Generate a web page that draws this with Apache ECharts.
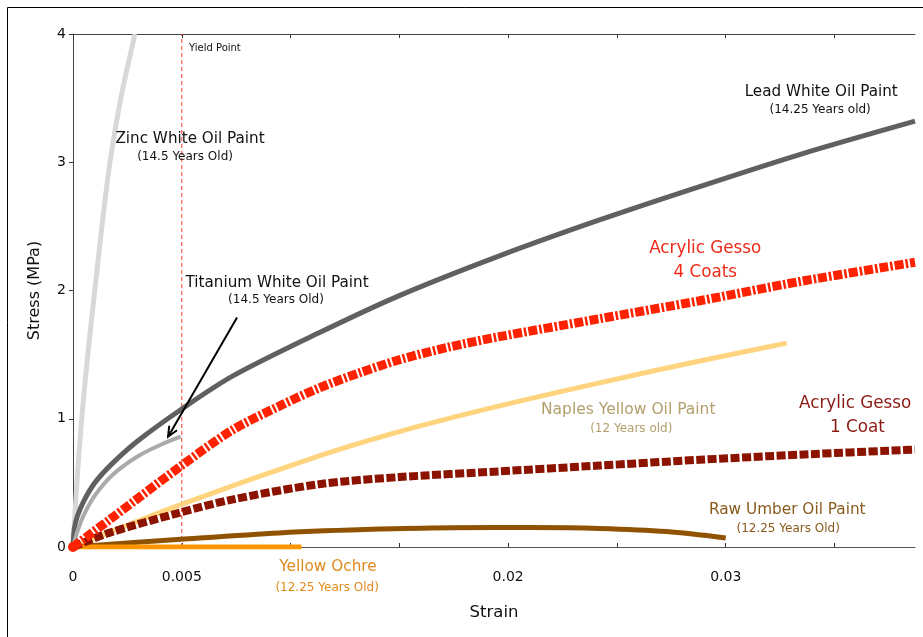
<!DOCTYPE html>
<html>
<head>
<meta charset="utf-8">
<title>Stress–Strain Curves of Aged Paint Films</title>
<script src="https://cdn.jsdelivr.net/npm/echarts@6/dist/echarts.min.js"></script>
<style>
  html, body { margin: 0; padding: 0; background: #fff; }
  #chart { width: 923px; height: 637px; }
</style>
</head>
<body>
<div id="chart"></div>
<script>
// ---- data: strain (mm/mm) vs stress (MPa) ----
const zincStrain      = [0, 0.00018, 0.0004, 0.00068, 0.001, 0.00133, 0.0017, 0.0022, 0.00285];
const zincStress      = [0, 0.5, 1.0, 1.5, 2.0, 2.5, 3.0, 3.5, 4.0];

const leadStrain      = [0, 0.00006, 0.0002, 0.0005, 0.001, 0.0018, 0.003, 0.00495, 0.00731, 0.01131, 0.015, 0.0196, 0.0242, 0.0288, 0.0334, 0.0387];
const leadStress      = [0, 0.14, 0.24, 0.36, 0.5, 0.65, 0.83, 1.07, 1.33, 1.67, 1.96, 2.27, 2.55, 2.81, 3.06, 3.32];

const titaniumStrain  = [0, 0.0002, 0.0005, 0.001, 0.0018, 0.003, 0.0042, 0.00495];
const titaniumStress  = [0, 0.12, 0.25, 0.4, 0.56, 0.71, 0.81, 0.86];

const gesso4Strain    = [0, 0.00166, 0.00495, 0.00731, 0.0095, 0.01131, 0.0132, 0.015, 0.0173, 0.0196, 0.0242, 0.0288, 0.0334, 0.0387];
const gesso4Stress    = [0, 0.21, 0.63, 0.91, 1.1, 1.24, 1.36, 1.46, 1.56, 1.64, 1.78, 1.92, 2.07, 2.22];

const naplesStrain    = [0, 0.00495, 0.01131, 0.015, 0.0196, 0.0242, 0.0288, 0.0328];
const naplesStress    = [0, 0.33, 0.71, 0.9, 1.1, 1.28, 1.45, 1.59];

const gesso1Strain    = [0, 0.00166, 0.00495, 0.00731, 0.01131, 0.015, 0.0196, 0.0242, 0.0288, 0.0334, 0.0387];
const gesso1Stress    = [0, 0.11, 0.27, 0.37, 0.49, 0.545, 0.59, 0.635, 0.68, 0.72, 0.76];

const umberStrain     = [0, 0.00495, 0.00947, 0.0141, 0.0175, 0.021, 0.0242, 0.0273, 0.03];
const umberStress     = [0, 0.06, 0.11, 0.14, 0.15, 0.152, 0.145, 0.12, 0.07];

const ochreStrain     = [0, 0.0105];
const ochreStress     = [0, 0];

const yieldStrain     = 0.005;
const yieldSpan       = [0, 4];

// axis ticks
const xTickValues     = [0, 0.005, 0.01, 0.015, 0.02, 0.025, 0.03, 0.035];
const xTickLabels     = [0, 0.005, 0.02, 0.03];
const yTickValues     = [0, 1, 2, 3, 4];

const pairs = (xs, ys) => xs.map((x, i) => [x, ys[i]]);

const FONT = '"DejaVu Sans", Verdana, sans-serif';

const chart = echarts.init(document.getElementById('chart'), null, { renderer: 'canvas' });

function lineSeries(name, xs, ys, color, width, type, z) {
  return {
    name: name,
    type: 'line',
    data: pairs(xs, ys),
    smooth: 0.3,
    showSymbol: false,
    symbol: 'none',
    silent: true,
    z: z,
    lineStyle: { color: color, width: width, type: type || 'solid', cap: 'butt' },
    clip: true
  };
}

const gesso4 = lineSeries('Acrylic Gesso 4 Coats', gesso4Strain, gesso4Stress, '#ff2200', 9, [9, 2, 2.5, 2], 6);
// round red blob at the origin
gesso4.data[0] = { value: gesso4.data[0], symbol: 'circle', symbolSize: 10, itemStyle: { color: '#ff2200' } };
gesso4.showSymbol = true;
gesso4.showAllSymbol = true;

// vertical dashed yield line
const yieldLine = {
  name: 'Yield Point',
  type: 'line',
  data: yieldSpan.map(s => [yieldStrain, s]),
  showSymbol: false,
  symbol: 'none',
  silent: true,
  z: 1,
  lineStyle: { color: '#ff3a2e', width: 1, type: [4, 3] }
};

const option = {
  animation: false,
  backgroundColor: '#ffffff',
  grid: { left: 73, right: 8, top: 34, bottom: 90, containLabel: false },
  xAxis: [
    {
      type: 'value',
      position: 'bottom',
      min: 0,
      max: 0.0387,
      name: 'Strain',
      nameLocation: 'middle',
      nameGap: 57,
      nameTextStyle: { fontFamily: FONT, fontSize: 16.5, color: '#111' },
      axisLine: { show: true, onZero: false, lineStyle: { color: '#555', width: 1.2 } },
      axisTick: { show: true, inside: true, length: 4, customValues: xTickValues, lineStyle: { color: '#333' } },
      axisLabel: {
        show: true,
        customValues: xTickLabels,
        margin: 23,
        fontFamily: FONT,
        fontSize: 14,
        color: '#111',
        formatter: v => String(v)
      },
      splitLine: { show: false }
    },
    {
      type: 'value',
      position: 'top',
      min: 0,
      max: 0.0387,
      axisLine: { show: true, onZero: false, lineStyle: { color: '#444', width: 1 } },
      axisTick: { show: true, inside: true, length: 4, customValues: xTickValues, lineStyle: { color: '#333' } },
      axisLabel: { show: false },
      splitLine: { show: false }
    }
  ],
  yAxis: {
    type: 'value',
    min: 0,
    max: 4,
    interval: 1,
    name: 'Stress (MPa)',
    nameLocation: 'middle',
    nameGap: 30,
    nameRotate: 90,
    nameTextStyle: { fontFamily: FONT, fontSize: 16, color: '#111' },
    axisLine: { show: true, onZero: false, lineStyle: { color: '#444', width: 1 } },
    axisTick: { show: true, inside: false, length: 4, customValues: yTickValues, lineStyle: { color: '#333' } },
    axisLabel: { show: true, margin: 7, fontFamily: FONT, fontSize: 14, color: '#111' },
    splitLine: { show: false }
  },
  series: [
    yieldLine,
    lineSeries('Zinc White Oil Paint', zincStrain, zincStress, '#d8d8d8', 5, 'solid', 2),
    lineSeries('Lead White Oil Paint', leadStrain, leadStress, '#606060', 5, 'solid', 3),
    lineSeries('Titanium White Oil Paint', titaniumStrain, titaniumStress, '#aaaaaa', 4, 'solid', 4),
    lineSeries('Naples Yellow Oil Paint', naplesStrain, naplesStress, '#ffd47e', 5, 'solid', 4),
    lineSeries('Acrylic Gesso 1 Coat', gesso1Strain, gesso1Stress, '#8c1300', 8, [9, 2.5], 5),
    gesso4,
    lineSeries('Raw Umber Oil Paint', umberStrain, umberStress, '#8f5200', 5, 'solid', 4),
    lineSeries('Yellow Ochre', ochreStrain, ochreStress, '#ff9500', 5, 'solid', 4)
  ]
};

chart.setOption(option);

// ---- annotations, placed in data coordinates ----
const annotations = [
  { text: 'Zinc White Oil Paint',      at: [0.00538, 3.18], size: 15.2, color: '#111' },
  { text: '(14.5 Years Old)',          at: [0.00515, 3.04], size: 12,   color: '#111' },
  { text: 'Yield Point',               at: [0.00533, 3.89], size: 10,   color: '#111', align: 'left' },
  { text: 'Titanium White Oil Paint',  at: [0.00938, 2.06], size: 15.2, color: '#111' },
  { text: '(14.5 Years Old)',          at: [0.00933, 1.93], size: 12,   color: '#111' },
  { text: 'Lead White Oil Paint',      at: [0.03439, 3.55], size: 15.2, color: '#111' },
  { text: '(14.25 Years old)',         at: [0.03434, 3.41], size: 12,   color: '#111' },
  { text: 'Acrylic Gesso',             at: [0.02906, 2.33], size: 16.8, color: '#ee2a18' },
  { text: '4 Coats',                   at: [0.02906, 2.14], size: 16.8, color: '#ee2a18' },
  { text: 'Naples Yellow Oil Paint',   at: [0.02552, 1.07], size: 15.5, color: '#b39e6c' },
  { text: '(12 Years old)',            at: [0.02566, 0.92], size: 12,   color: '#b39e6c' },
  { text: 'Acrylic Gesso',             at: [0.03595, 1.12], size: 16.8, color: '#8b1a14' },
  { text: '1 Coat',                    at: [0.03605, 0.93], size: 16.8, color: '#8b1a14' },
  { text: 'Raw Umber Oil Paint',       at: [0.03283, 0.29], size: 15.3, color: '#8a5a1c' },
  { text: '(12.25 Years Old)',         at: [0.03287, 0.14], size: 12,   color: '#8a5a1c' },
  { text: 'Yellow Ochre',              at: [0.01172, -0.16], size: 15.3, color: '#e08a1c' },
  { text: '(12.25 Years Old)',         at: [0.01168, -0.32], size: 12,  color: '#e08a1c' }
];

// arrow pointing at the end of the titanium white curve
const arrowFrom = [0.00754, 1.79];
const arrowTo   = [0.00437, 0.86];

function toPx(p) {
  return chart.convertToPixel({ xAxisIndex: 0, yAxisIndex: 0 }, p);
}

const graphics = [];

// outer frame
graphics.push({
  type: 'rect',
  silent: true,
  z: 0,
  shape: { x: 7.5, y: 7.5, width: 2000, height: 2000 },
  style: { fill: 'none', stroke: '#000', lineWidth: 1 }
});

annotations.forEach(a => {
  const p = toPx(a.at);
  graphics.push({
    type: 'text',
    silent: true,
    z: 100,
    x: p[0],
    y: p[1],
    style: {
      text: a.text,
      fill: a.color,
      font: a.size + 'px ' + FONT,
      align: a.align || 'center',
      verticalAlign: 'middle'
    }
  });
});

(function addArrow() {
  const a = toPx(arrowFrom);
  const b = toPx(arrowTo);
  const ang = Math.atan2(b[1] - a[1], b[0] - a[0]);
  const wing = 11, spread = 0.42;
  const w1 = [b[0] - wing * Math.cos(ang - spread), b[1] - wing * Math.sin(ang - spread)];
  const w2 = [b[0] - wing * Math.cos(ang + spread), b[1] - wing * Math.sin(ang + spread)];
  graphics.push({
    type: 'line', silent: true, z: 100,
    shape: { x1: a[0], y1: a[1], x2: b[0], y2: b[1] },
    style: { stroke: '#000', lineWidth: 2 }
  });
  graphics.push({
    type: 'polyline', silent: true, z: 100,
    shape: { points: [w1, b, w2] },
    style: { stroke: '#000', lineWidth: 2, fill: 'none' }
  });
})();

chart.setOption({ graphic: graphics });
</script>
</body>
</html>
